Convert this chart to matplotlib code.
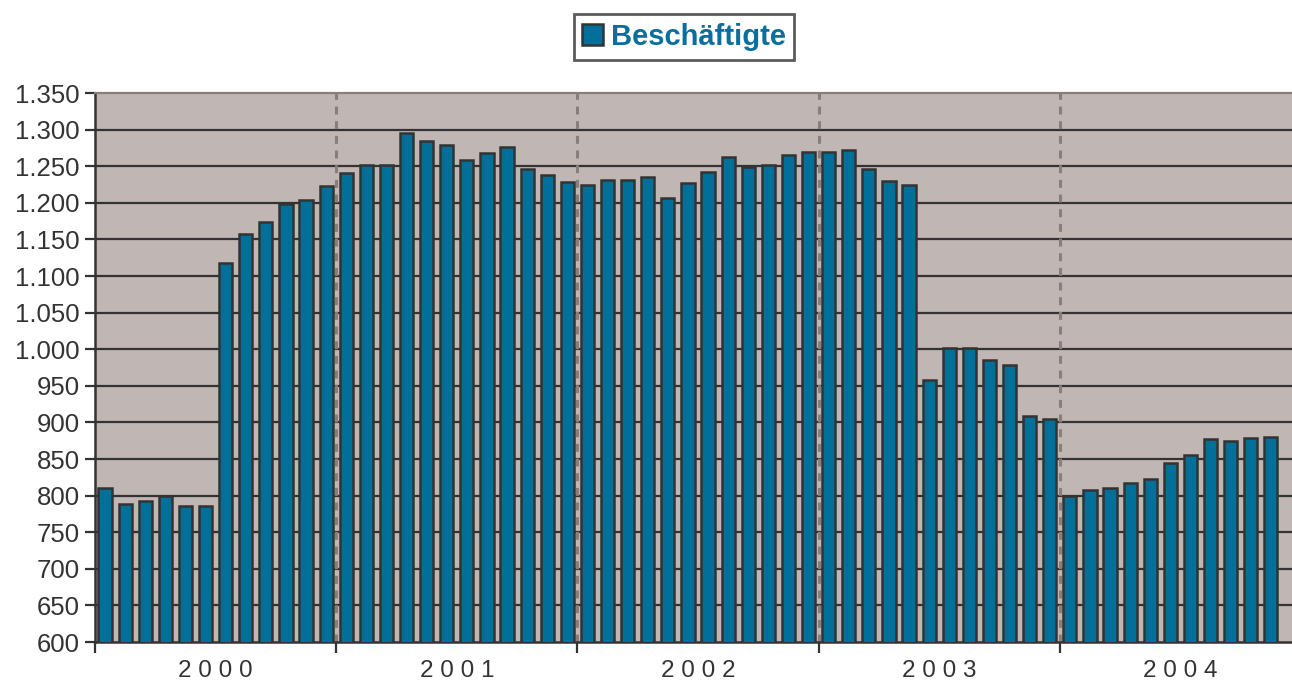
import matplotlib
matplotlib.use("Agg")
import matplotlib.pyplot as plt
from matplotlib.patches import Patch
from matplotlib.ticker import FixedLocator, FuncFormatter
import numpy as np

# Beschäftigte per month, Jan 2000 .. Nov 2004 (Dec 2004 not shown)
years = ["2000", "2001", "2002", "2003", "2004"]
v2000 = [810, 789, 792, 800, 786, 786, 1118, 1158, 1174, 1198, 1204, 1223]
v2001 = [1241, 1252, 1251, 1295, 1285, 1279, 1259, 1268, 1276, 1246, 1238, 1228]
v2002 = [1225, 1231, 1231, 1235, 1207, 1227, 1242, 1262, 1249, 1251, 1265, 1270]
v2003 = [1270, 1272, 1246, 1230, 1224, 958, 1002, 1002, 985, 979, 909, 904]
v2004 = [799, 808, 811, 817, 822, 844, 855, 878, 875, 879, 880]
series_label = "Beschäftigte"

values = v2000 + v2001 + v2002 + v2003 + v2004
y_ticks = list(range(600, 1351, 50))

BAR = "#00709b"
EDGE = "#333333"
BG = "#c0b6b3"
DASH = "#8a7e7b"
TXT = "#333333"

plt.rcParams["font.family"] = ["Liberation Sans", "DejaVu Sans"]

W, H = 1292, 693
fig = plt.figure(figsize=(W / 100, H / 100), dpi=100)
left, right, top, bottom = 95, 1301, 93, 642
ax = fig.add_axes([left / W, 1 - bottom / H, (right - left) / W, (bottom - top) / H])
ax.set_facecolor(BG)

x = np.arange(len(values))
ax.bar(x, values, width=0.66, color=BAR, edgecolor=EDGE, linewidth=1.8, zorder=3)

ax.set_xlim(-0.5, 12 * len(years) - 0.5)
ax.set_ylim(600, 1350)

# horizontal grid
for yv in y_ticks[1:-1]:
    ax.axhline(yv, color=EDGE, lw=1.6, zorder=1)
# year separators
for i in range(1, len(years)):
    ax.axvline(12 * i - 0.5, color=DASH, lw=2.2, ls=(0, (2.6, 2.2)), zorder=1)

ax.set_yticks(y_ticks)
ax.yaxis.set_major_formatter(FuncFormatter(lambda v, p: f"{int(v):,}".replace(",", ".")))
ax.tick_params(axis="y", direction="out", length=7, width=1.6, color=EDGE,
               labelsize=18.5, labelcolor=TXT, pad=4)

ax.xaxis.set_major_locator(FixedLocator([12 * i - 0.5 for i in range(len(years) + 1)]))
ax.xaxis.set_minor_locator(FixedLocator([12 * i + 5.5 for i in range(len(years))]))
ax.set_xticklabels([])
ax.set_xticklabels([" ".join(y) for y in years], minor=True)
ax.tick_params(axis="x", which="major", direction="out", length=8, width=1.6, color=EDGE)
ax.tick_params(axis="x", which="minor", length=0, labelsize=17.5, labelcolor=TXT, pad=13)

for s in ["left", "bottom"]:
    ax.spines[s].set_color(EDGE)
    ax.spines[s].set_linewidth(1.8)
ax.spines["top"].set_color(DASH)
ax.spines["top"].set_linewidth(1.6)
ax.spines["right"].set_visible(False)

handle = Patch(facecolor=BAR, edgecolor=EDGE, linewidth=1.8)
leg = fig.legend([handle], [series_label], loc="center",
                 bbox_to_anchor=(684 / W, 1 - 37 / H), frameon=True, fancybox=False,
                 handlelength=0.72, handleheight=0.72, handletextpad=0.25,
                 borderpad=0.3, prop={"size": 21, "weight": "bold"})
leg.get_frame().set_edgecolor(EDGE)
leg.get_frame().set_linewidth(2)
for t in leg.get_texts():
    t.set_color("#0a6f9c")

fig.savefig("out.png", dpi=100)
